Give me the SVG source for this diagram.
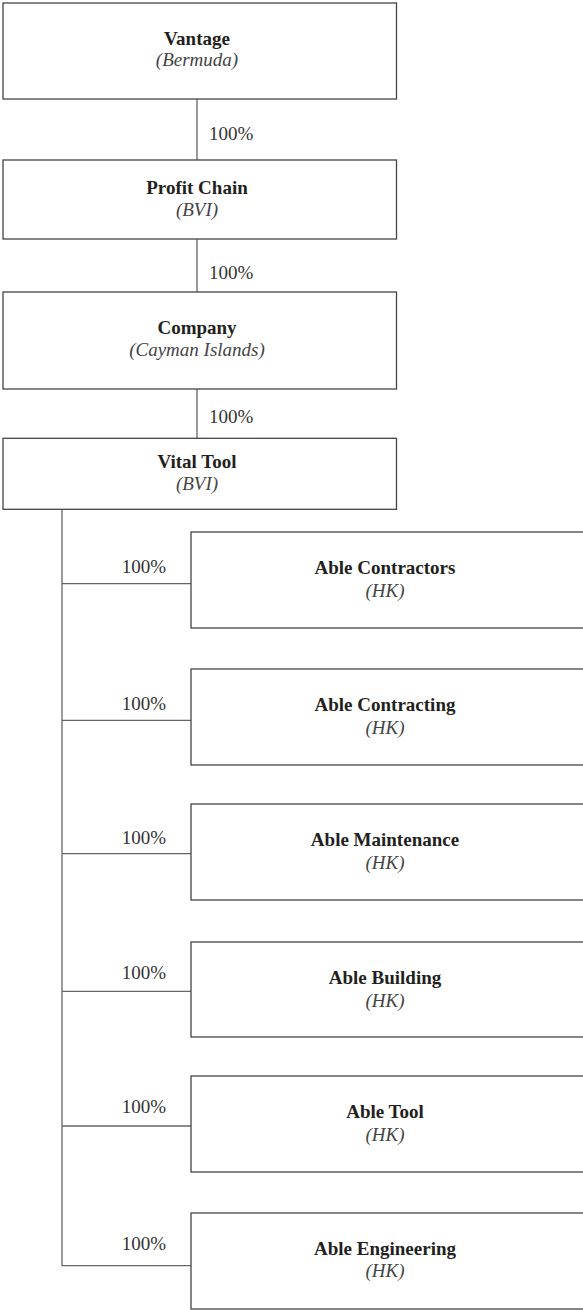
<svg xmlns="http://www.w3.org/2000/svg" width="583" height="1310" viewBox="0 0 583 1310">
<style>
.box{fill:#fff;stroke:#444;stroke-width:1.3}
.ln{fill:none;stroke:#666;stroke-width:1.3}
.nm{font-family:"Liberation Serif",serif;font-size:19px;font-weight:bold;fill:#231f20;text-anchor:middle}
.jr{font-family:"Liberation Serif",serif;font-size:19px;font-style:italic;fill:#444;text-anchor:middle}
.pc{font-family:"Liberation Serif",serif;font-size:19px;fill:#333}
</style>
<g id="connectors">
<path class="ln" d="M197 99V160M197 239V292M197 389V438"/>
<path class="ln" d="M62 509V1265.7H191M62 583.7H191M62 720.3H191M62 853.7H191M62 991.3H191M62 1126H191"/>
<text class="pc" x="209" y="140">100%</text>
<text class="pc" x="209" y="279">100%</text>
<text class="pc" x="209" y="423">100%</text>
<text class="pc" x="166" y="572.7" text-anchor="end">100%</text>
<text class="pc" x="166" y="710" text-anchor="end">100%</text>
<text class="pc" x="166" y="844" text-anchor="end">100%</text>
<text class="pc" x="166" y="979" text-anchor="end">100%</text>
<text class="pc" x="166" y="1112.7" text-anchor="end">100%</text>
<text class="pc" x="166" y="1250" text-anchor="end">100%</text>
</g>
<g id="vantage"><rect class="box" x="3" y="3" width="393.5" height="96"/><text class="nm" x="197" y="45">Vantage</text><text class="jr" x="197" y="66">(Bermuda)</text></g>
<g id="profit-chain"><rect class="box" x="3" y="160" width="393.5" height="79"/><text class="nm" x="197" y="194">Profit Chain</text><text class="jr" x="197" y="216">(BVI)</text></g>
<g id="company"><rect class="box" x="3" y="292" width="393.5" height="97"/><text class="nm" x="197" y="334">Company</text><text class="jr" x="197" y="355.7">(Cayman Islands)</text></g>
<g id="vital-tool"><rect class="box" x="3" y="438.3" width="393.5" height="71"/><text class="nm" x="197" y="468.3">Vital Tool</text><text class="jr" x="197" y="490">(BVI)</text></g>
<g id="able-contractors"><rect class="box" x="191" y="532" width="400" height="96"/><text class="nm" x="385" y="574">Able Contractors</text><text class="jr" x="385" y="596.5">(HK)</text></g>
<g id="able-contracting"><rect class="box" x="191" y="669" width="400" height="96"/><text class="nm" x="385" y="711">Able Contracting</text><text class="jr" x="385" y="733.5">(HK)</text></g>
<g id="able-maintenance"><rect class="box" x="191" y="804" width="400" height="96"/><text class="nm" x="385" y="846">Able Maintenance</text><text class="jr" x="385" y="868.5">(HK)</text></g>
<g id="able-building"><rect class="box" x="191" y="942" width="400" height="95"/><text class="nm" x="385" y="984">Able Building</text><text class="jr" x="385" y="1006.5">(HK)</text></g>
<g id="able-tool"><rect class="box" x="191" y="1076" width="400" height="96"/><text class="nm" x="385" y="1118">Able Tool</text><text class="jr" x="385" y="1140.5">(HK)</text></g>
<g id="able-engineering"><rect class="box" x="191" y="1213" width="400" height="96"/><text class="nm" x="385" y="1255">Able Engineering</text><text class="jr" x="385" y="1277.3">(HK)</text></g>
</svg>
